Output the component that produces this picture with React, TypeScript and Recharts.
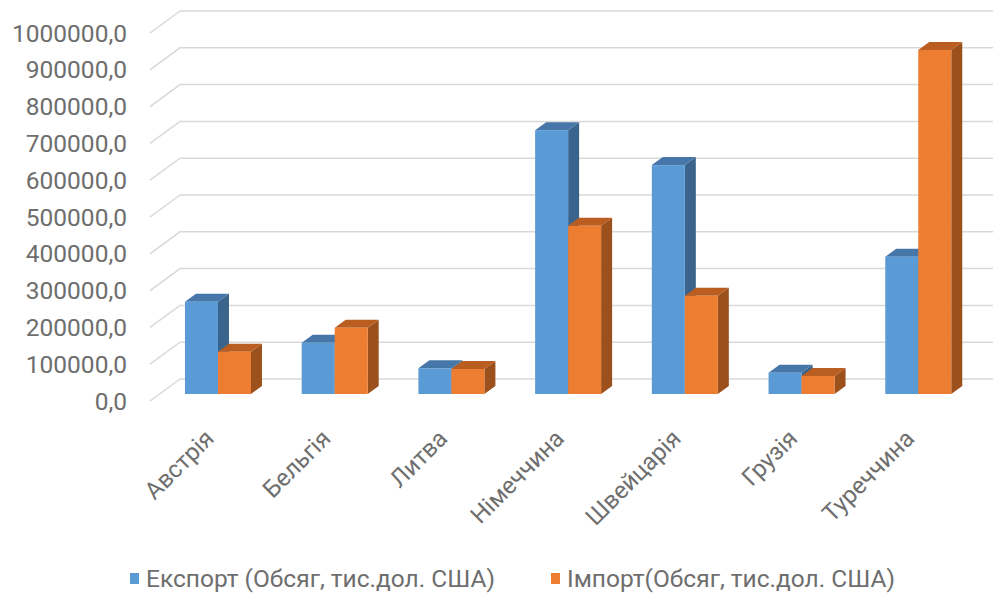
import React from "react";
import { Bar, BarChart, CartesianGrid, Legend, XAxis, YAxis } from "recharts";

const countries = ["Австрія", "Бельгія", "Литва", "Німеччина", "Швейцарія", "Грузія", "Туреччина"];
const exportValues = [251000, 139000, 70000, 717000, 622000, 58000, 373000];
const importValues = [115000, 180000, 68000, 457000, 267000, 49000, 935000];
const yTicks = [0, 100000, 200000, 300000, 400000, 500000, 600000, 700000, 800000, 900000, 1000000];

const exportName = "Експорт (Обсяг, тис.дол. США)";
const importName = "Імпорт(Обсяг, тис.дол. США)";

const data = countries.map((name, i) => ({
  name,
  exp: exportValues[i],
  imp: importValues[i],
}));

const FONT = "Roboto, 'Noto Sans', sans-serif";
const TEXT = "#6e6e6e";

// depth of the extruded column faces
const DX = 11;
const DY = 8;

const palette: Record<string, { front: string; top: string; side: string }> = {
  exp: { front: "#5B9BD5", top: "#4677A8", side: "#3A648C" },
  imp: { front: "#ED7D31", top: "#B95E20", side: "#9C501C" },
};

const makeColumn = (key: string) => (props: any) => {
  const { x, y, width, height } = props;
  const c = palette[key];
  const bottom = y + height;
  const top = `${x},${y} ${x + DX},${y - DY} ${x + width + DX},${y - DY} ${x + width},${y}`;
  const side = `${x + width},${y} ${x + width + DX},${y - DY} ${x + width + DX},${bottom - DY} ${x + width},${bottom}`;
  return (
    <g>
      <polygon points={side} fill={c.side} />
      <polygon points={top} fill={c.top} />
      <rect x={x} y={y} width={width} height={height} fill={c.front} />
    </g>
  );
};

// back-wall gridline with a slanted run to the front edge
const gridLine = (props: any) => {
  const { x1, x2, y1, key } = props;
  const pts = `${x1 - 10},${y1 + 7} ${x1 + 20},${y1 - 15} ${x2 + 16},${y1 - 15}`;
  return <polyline key={key} points={pts} fill="none" stroke="#d9d9d9" strokeWidth={1.5} />;
};

const fmt = (v: number) => `${v},0`;

const YTick = (props: any) => {
  const { y, payload } = props;
  return (
    <text x={127} y={y + 7} textAnchor="end" dominantBaseline="central" fill={TEXT} fontSize={24.5} fontFamily={FONT}>
      {fmt(payload.value)}
    </text>
  );
};

const XTick = (props: any) => {
  const { x, y, payload } = props;
  const px = x - 3;
  const py = y + 44;
  return (
    <text
      x={px}
      y={py}
      textAnchor="end"
      transform={`rotate(-45 ${px} ${py})`}
      fill={TEXT}
      fontSize={24}
      fontFamily={FONT}
    >
      {payload.value}
    </text>
  );
};

const LegendBox = () => (
  <div
    style={{
      height: 60,
      display: "flex",
      justifyContent: "flex-start",
      alignItems: "center",
      paddingTop: 22,
      paddingLeft: 130,
      boxSizing: "border-box",
      fontFamily: FONT,
      fontSize: 24.5,
      color: TEXT,
      gap: 56,
      whiteSpace: "nowrap",
    }}
  >
    {[
      { label: exportName, color: palette.exp.front },
      { label: importName, color: palette.imp.front },
    ].map((item) => (
      <span key={item.label} style={{ display: "flex", alignItems: "center" }}>
        <span style={{ width: 9, height: 11, background: item.color, marginRight: 7 }} />
        {item.label}
      </span>
    ))}
  </div>
);

export default function App() {
  return (
    <div style={{ position: "absolute", left: 0, top: 0, background: "#fff" }}>
      <BarChart
        width={993}
        height={597}
        data={data}
        margin={{ top: 26, right: 16, left: 0, bottom: 0 }}
        barCategoryGap="21.4%"
        barGap={0}
      >
        <CartesianGrid vertical={false} horizontal={gridLine} />
        <YAxis
          width={160}
          domain={[0, 1000000]}
          ticks={yTicks}
          axisLine={false}
          tickLine={false}
          tickSize={0}
          tick={<YTick />}
          interval={0}
        />
        <XAxis
          dataKey="name"
          height={143}
          axisLine={false}
          tickLine={false}
          tickSize={0}
          tick={<XTick />}
          interval={0}
        />
        <Legend verticalAlign="bottom" content={<LegendBox />} />
        <Bar dataKey="exp" name={exportName} shape={makeColumn("exp")} isAnimationActive={false} />
        <Bar dataKey="imp" name={importName} shape={makeColumn("imp")} isAnimationActive={false} />
      </BarChart>
    </div>
  );
}
